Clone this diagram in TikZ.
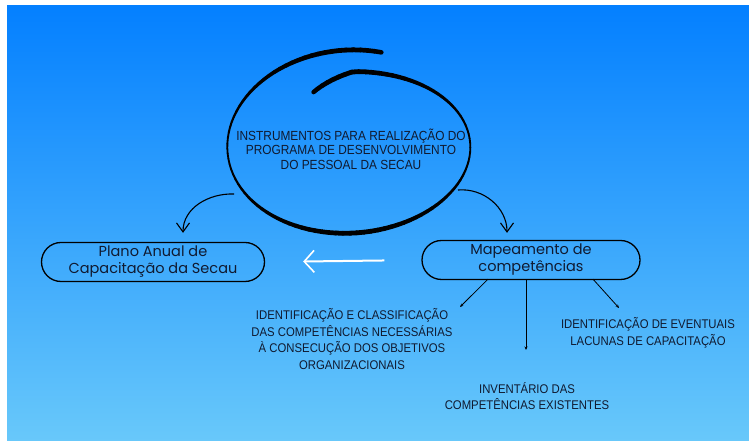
\documentclass[tikz,border=0pt]{standalone}
\usepackage{fontspec}
\setmainfont{Liberation Sans}
\newfontfamily\capsfont[FakeStretch=0.9]{Liberation Sans}
\newfontfamily\handfont{Poppins}
\usetikzlibrary{positioning,arrows.meta,calc,shapes.misc}

\definecolor{inkblue}{RGB}{16,26,48}
\definecolor{skytop}{RGB}{4,128,255}
\definecolor{skybottom}{RGB}{104,200,250}

\begin{document}
\begin{tikzpicture}[x=1pt, y=1pt,
  declare function={spf(\t)=1-0.2*max(0,1-\t/0.06);
    spx(\t)=349.5+spf(\t)*(120+3*\t)*cos(112-397*\t);
    spy(\t)=294+spf(\t)*(74+24*\t)*sin(112-397*\t);
    spw(\t)=3.3+1.5*cos(800*(\t-0.5));},
  capsbox/.style = {align=center, text=inkblue, inner sep=0pt, font=\capsfont\fontsize{12.6}{16.8}\selectfont},
  ovalbox/.style = {draw=black, line width=1.3pt, rounded rectangle, minimum height=39pt, inner sep=0pt, align=center, text=inkblue, font=\handfont\fontsize{14.5}{17}\selectfont},
  curvearrow/.style = {draw=black, line width=1.1pt, -{Straight Barb[length=9pt, width=13pt, line width=1.1pt]}},
  brancharrow/.style = {draw=black, line width=0.8pt, -{Stealth[length=3.5pt, width=3pt]}}
]
\useasboundingbox (0,0) rectangle (749,441);
\shade[top color=skytop, bottom color=skybottom] (7,0) rectangle (749,435);

% the spiral around the title, drawn piece by piece so the stroke can swell
\foreach \i in {0,...,119} {
  \pgfmathsetmacro\ta{\i/120}
  \pgfmathsetmacro\tb{(\i+1)/120}
  \pgfmathsetmacro\w{spw(\ta)}
  \draw[line width=\w pt, line cap=round] ({spx(\ta)},{spy(\ta)}) -- ({spx(\tb)},{spy(\tb)});
}

\node[capsbox, font=\capsfont\fontsize{13.2}{14.6}\selectfont] (instr) at (351,292) {INSTRUMENTOS PARA REALIZAÇÃO DO\\PROGRAMA DE DESENVOLVIMENTO\\DO PESSOAL DA SECAU};

\node[ovalbox, minimum width=223pt] (plano) at (153,179) {Plano Anual de\\Capacitação da Secau};
\node[ovalbox, minimum width=218pt] (mapa) at (531,181) {Mapeamento de\\competências};

\node[capsbox] (ident) at (352,102) {IDENTIFICAÇÃO E CLASSIFICAÇÃO\\DAS COMPETÊNCIAS NECESSÁRIAS\\À CONSECUÇÃO DOS OBJETIVOS\\ORGANIZACIONAIS};
\node[capsbox] (invent) at (527,45) {INVENTÁRIO DAS\\COMPETÊNCIAS EXISTENTES};
\node[capsbox] (lacunas) at (648,108) {IDENTIFICAÇÃO DE EVENTUAIS\\LACUNAS DE CAPACITAÇÃO};

\coordinate (sl) at (234,247);
\coordinate (sr) at (458,251);
\draw[curvearrow] (sl) to[out=178, in=90] ($(plano.north)+(30,9)$);
\draw[curvearrow] (sr) to[out=5, in=90] ($(mapa.north)+(-24,7)$);

\draw[white, line width=2pt, -{Straight Barb[length=10pt, width=22pt, line width=1.6pt]}, shorten <=37pt, shorten >=38pt] (mapa.west) -- (plano.east);

\coordinate (tl) at (460,134);
\coordinate (tm) at (526,91);
\coordinate (tr) at (619,133);
\draw[brancharrow] ($(mapa.south)+(-43,1)$) -- (tl);
\draw[brancharrow] ($(mapa.south)+(-5,1)$) -- (tm);
\draw[brancharrow] ($(mapa.south)+(62,1)$) -- (tr);
\end{tikzpicture}
\end{document}
